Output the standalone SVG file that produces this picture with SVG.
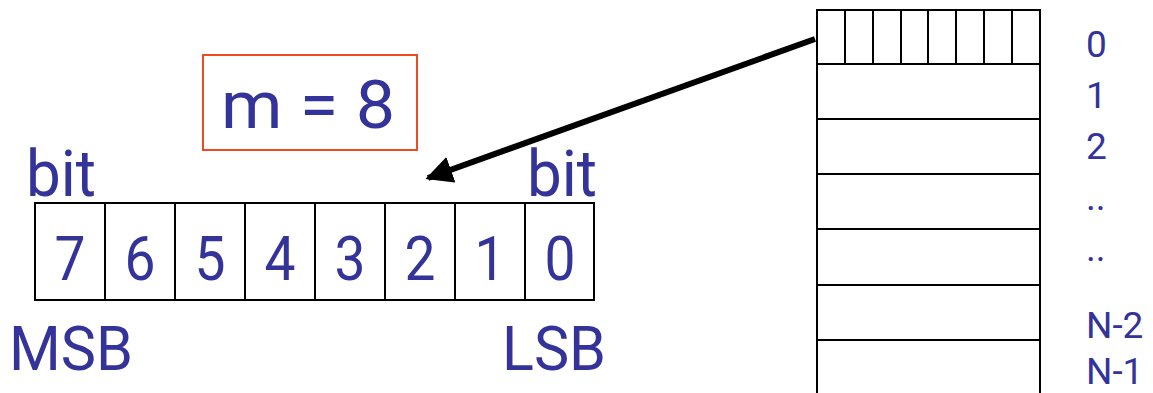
<svg xmlns="http://www.w3.org/2000/svg" width="1153" height="393" viewBox="0 0 1153 393">
  <style>
    .t { font-family: Roboto, "Liberation Sans", sans-serif; fill: #333399; }
    .cell { fill: #ffffff; stroke: #000000; stroke-width: 2; }
    .ln { stroke: #000000; stroke-width: 2; fill: none; }
  </style>
  <defs>
    <marker id="head" viewBox="0 0 10 10" refX="9" refY="5" markerWidth="4.5" markerHeight="4.5" orient="auto" markerUnits="strokeWidth">
      <path d="M0,0 L10,5 L0,10 z" fill="#000000"/>
    </marker>
  </defs>
  <rect width="1153" height="393" fill="#ffffff"/>

  <!-- m = 8 label -->
  <g id="m-label">
    <rect x="203" y="55" width="214" height="95" fill="none" stroke="#f04a23" stroke-width="2"/>
    <text class="t" x="221" y="128" font-size="66" textLength="174" lengthAdjust="spacingAndGlyphs">m = 8</text>
  </g>

  <!-- byte register, bit 7 .. bit 0 -->
  <g id="byte">
    <rect class="cell" x="35" y="203" width="559" height="97"/>
    <path class="ln" d="M105,203V300 M175,203V300 M245,203V300 M315,203V300 M385,203V300 M455,203V300 M525,203V300"/>
    <g class="t" font-size="61" text-anchor="middle">
      <text x="70" y="280" textLength="31" lengthAdjust="spacingAndGlyphs">7</text>
      <text x="140" y="280" textLength="31" lengthAdjust="spacingAndGlyphs">6</text>
      <text x="210" y="280" textLength="31" lengthAdjust="spacingAndGlyphs">5</text>
      <text x="280" y="280" textLength="31" lengthAdjust="spacingAndGlyphs">4</text>
      <text x="350" y="280" textLength="31" lengthAdjust="spacingAndGlyphs">3</text>
      <text x="420" y="280" textLength="31" lengthAdjust="spacingAndGlyphs">2</text>
      <text x="490" y="280" textLength="31" lengthAdjust="spacingAndGlyphs">1</text>
      <text x="560" y="280" textLength="31" lengthAdjust="spacingAndGlyphs">0</text>
    </g>
    <text class="t" x="26" y="196" font-size="64" textLength="70" lengthAdjust="spacingAndGlyphs">bit</text>
    <text class="t" x="527" y="196" font-size="64" textLength="70" lengthAdjust="spacingAndGlyphs">bit</text>
    <text class="t" x="9" y="370" font-size="62" textLength="124" lengthAdjust="spacingAndGlyphs">MSB</text>
    <text class="t" x="502" y="370" font-size="62" textLength="104" lengthAdjust="spacingAndGlyphs">LSB</text>
  </g>

  <!-- memory of N words -->
  <g id="memory">
    <rect class="cell" x="817" y="10" width="223" height="390"/>
    <path class="ln" d="M845,10V64 M873,10V64 M901,10V64 M928,10V64 M956,10V64 M984,10V64 M1012,10V64"/>
    <path class="ln" d="M817,64H1040 M817,119H1040 M817,174H1040 M817,229H1040 M817,285H1040 M817,340H1040"/>
    <g class="t" font-size="37">
      <text x="1086" y="57">0</text>
      <text x="1086" y="108">1</text>
      <text x="1086" y="159">2</text>
      <text x="1086" y="210">..</text>
      <text x="1086" y="261">..</text>
      <text x="1086" y="338">N-2</text>
      <text x="1086" y="384">N-1</text>
    </g>
  </g>

  <!-- connector: word 0 to byte -->
  <g id="connectors">
    <line x1="815" y1="39" x2="428" y2="178" stroke="#000000" stroke-width="6" marker-end="url(#head)"/>
  </g>
</svg>
